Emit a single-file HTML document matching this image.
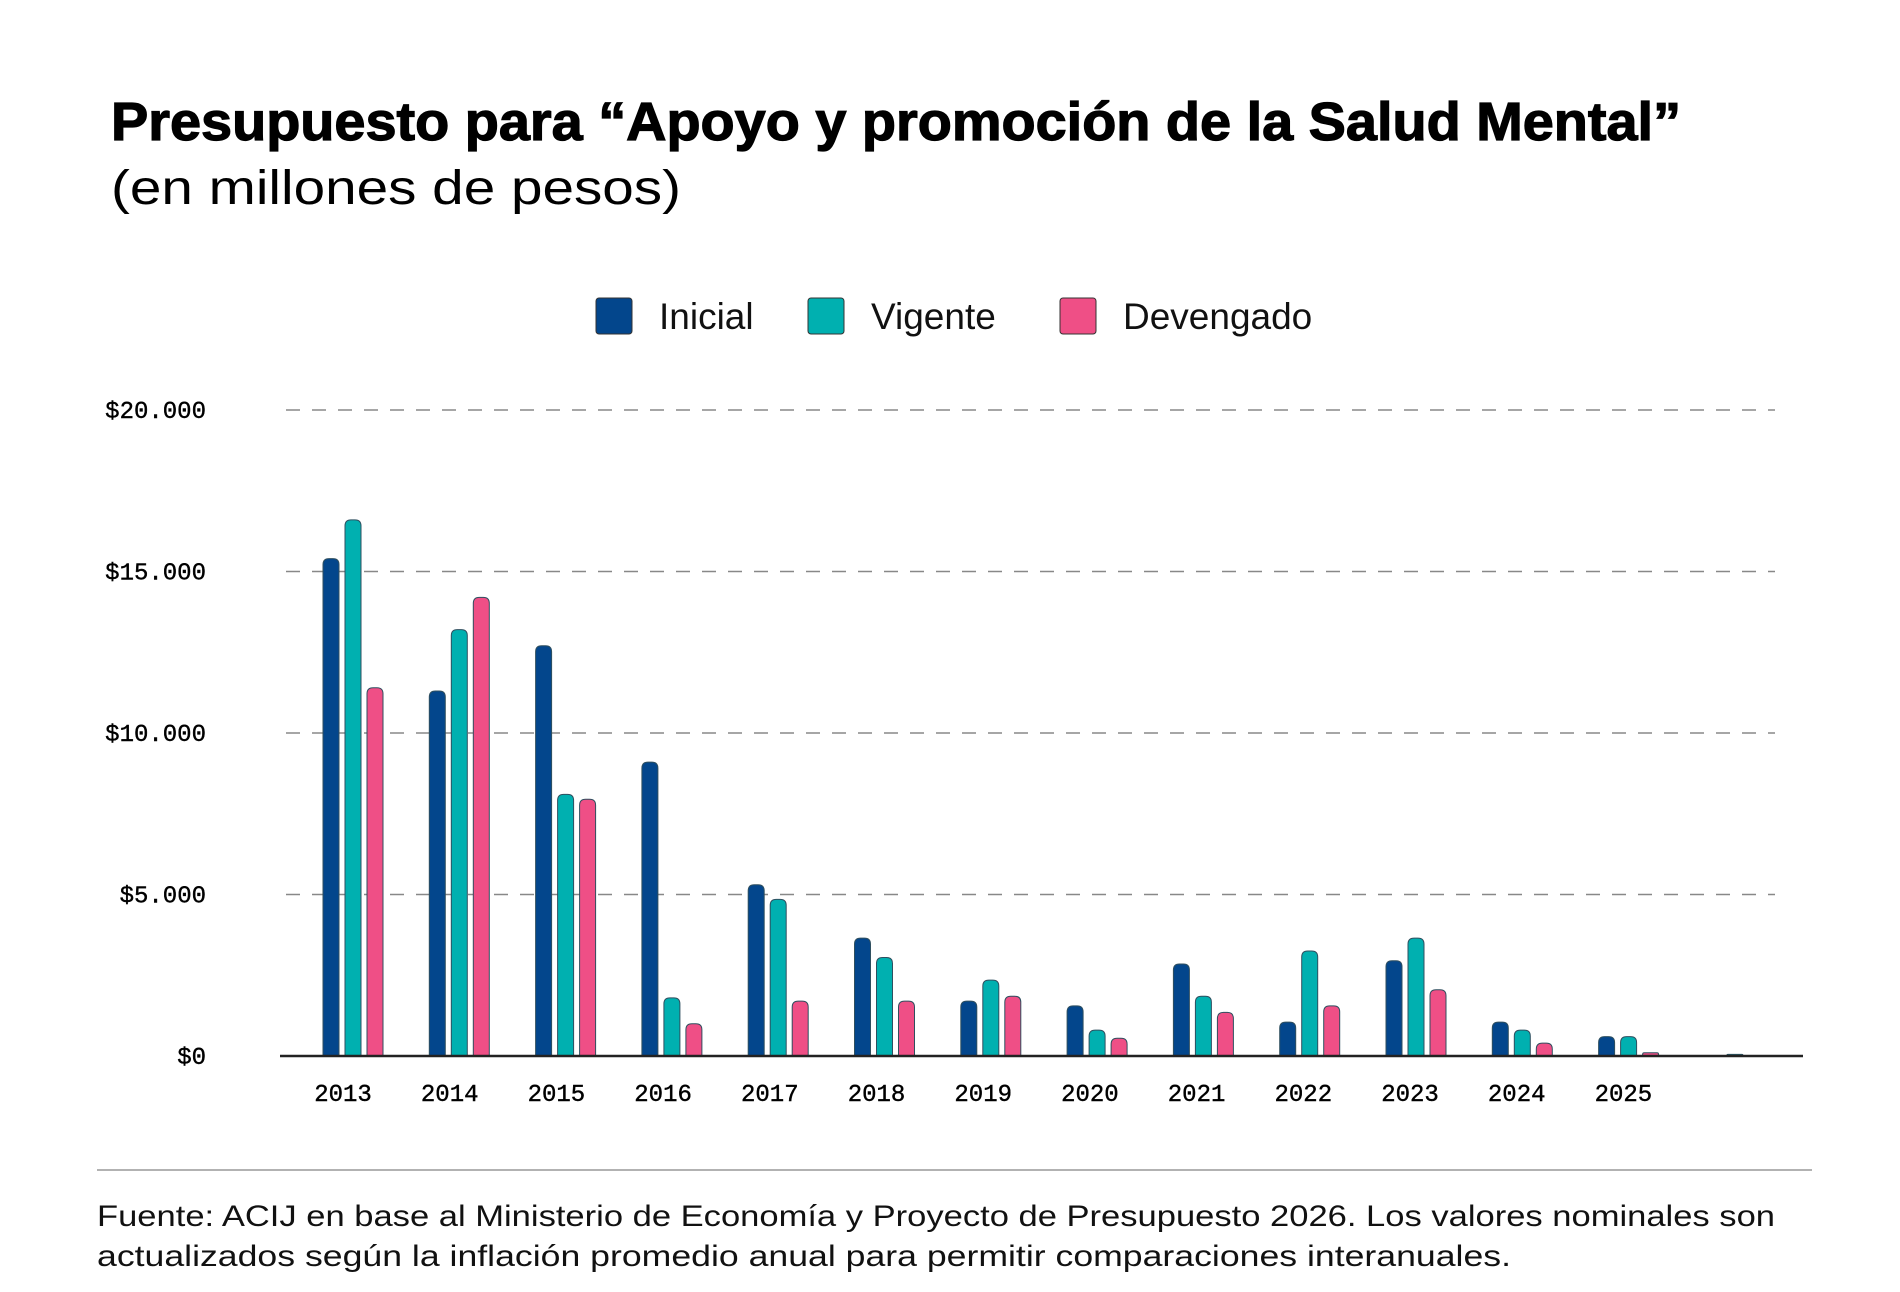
<!DOCTYPE html>
<html><head><meta charset="utf-8"><style>
html,body{margin:0;padding:0;background:#fff;}
svg{display:block;}
</style></head><body>
<svg id="chart" width="1900" height="1292" viewBox="0 0 1900 1292" xmlns="http://www.w3.org/2000/svg">
<rect width="1900" height="1292" fill="#fff"/>
<text x="111" y="140" font-family="Liberation Sans, sans-serif" font-weight="bold" font-size="54" textLength="1570" lengthAdjust="spacingAndGlyphs" fill="#000" stroke="#000" stroke-width="1.2">Presupuesto para “Apoyo y promoción de la Salud Mental”</text>
<text x="111" y="204" font-family="Liberation Sans, sans-serif" font-size="48" textLength="570" lengthAdjust="spacingAndGlyphs" fill="#000">(en millones de pesos)</text>
<g font-family="Liberation Sans, sans-serif" font-size="37" fill="#111">
<g><rect x="596" y="298" width="36" height="36" rx="3" fill="#03468c" stroke="#333" stroke-width="1"/><text x="659" y="329">Inicial</text></g>
<g><rect x="808" y="298" width="36" height="36" rx="3" fill="#00b0b0" stroke="#333" stroke-width="1"/><text x="871" y="329">Vigente</text></g>
<g><rect x="1060" y="298" width="36" height="36" rx="3" fill="#ef4f86" stroke="#333" stroke-width="1"/><text x="1123" y="329">Devengado</text></g>
</g>
<g id="grid"></g>
<g id="bars"></g>
<g id="xlabels"></g>
<line x1="280" y1="1056" x2="1803" y2="1056" stroke="#222" stroke-width="2.5"/>
<line x1="97" y1="1170" x2="1812" y2="1170" stroke="#999" stroke-width="1.5"/>
<g font-family="Liberation Sans, sans-serif" font-size="30" fill="#111">
<text x="97" y="1226" textLength="1678" lengthAdjust="spacingAndGlyphs">Fuente: ACIJ en base al Ministerio de Economía y Proyecto de Presupuesto 2026. Los valores nominales son</text>
<text x="97" y="1266" textLength="1414" lengthAdjust="spacingAndGlyphs">actualizados según la inflación promedio anual para permitir comparaciones interanuales.</text>
</g>
</svg>
<script>
const years = ["2013","2014","2015","2016","2017","2018","2019","2020","2021","2022","2023","2024","2025",""];
const inicial = [15400,11300,12700,9100,5300,3650,1700,1550,2850,1050,2950,1050,600,10];
const vigente = [16600,13200,8100,1800,4850,3050,2350,800,1850,3250,3650,800,600,50];
const devengado = [11400,14200,7950,1000,1700,1700,1850,550,1350,1550,2050,400,100,10];
const ticks = [0,5000,10000,15000,20000];
const tickLabels = ["$0","$5.000","$10.000","$15.000","$20.000"];

const NS = "http://www.w3.org/2000/svg";
const y0 = 1056, yTop = 410, vMax = 20000;
function yScale(v){ return y0 - (v / vMax) * (y0 - yTop); }
const x0 = 353, step = 106.3;
function xScale(i){ return x0 + i * step; }
function xLabel(i){ return 343 + i * 106.7; }

const grid = document.getElementById('grid');
ticks.forEach((t, i) => {
  const y = yScale(t);
  if (t > 0) {
    const l = document.createElementNS(NS, 'line');
    
    
    l.setAttribute('x1', 286); l.setAttribute('x2', 1775);
    l.setAttribute('y1', y); l.setAttribute('y2', y);
    l.setAttribute('stroke', '#888'); l.setAttribute('stroke-width', '1.6');
    l.setAttribute('stroke-dasharray', '14 12');
    grid.appendChild(l);
  }
  const tx = document.createElementNS(NS, 'text');
  
  
  tx.setAttribute('x', 206); tx.setAttribute('y', y + 8);
  tx.setAttribute('text-anchor', 'end');
  tx.setAttribute('font-family', 'Liberation Mono, monospace');
  tx.setAttribute('font-size', '24');
  tx.setAttribute('stroke', '#000');
  tx.setAttribute('stroke-width', '0.4');
  tx.textContent = tickLabels[i];
  grid.appendChild(tx);
});

const barsG = document.getElementById('bars');
const series = [[inicial, '#03468c', -22], [vigente, '#00b0b0', 0], [devengado, '#ef4f86', 22]];
const w = 16, r = 6;
years.forEach((yr, i) => {
  const cx = xScale(i);
  series.forEach(([arr, color, off]) => {
    const v = arr[i];
    const top = yScale(v), h = y0 - top;
    const x = cx + off - w / 2;
    const rr = Math.min(r, h / 2, w / 2);
    const p = document.createElementNS(NS, 'path');
    
    
    p.setAttribute('d', `M${x},${y0} L${x},${top + rr} Q${x},${top} ${x + rr},${top} L${x + w - rr},${top} Q${x + w},${top} ${x + w},${top + rr} L${x + w},${y0} Z`);
    p.setAttribute('fill', color);
    p.setAttribute('stroke', '#2f4f5f');
    p.setAttribute('stroke-width', '1');
    barsG.appendChild(p);
  });
  if (yr) {
    const t = document.createElementNS(NS, 'text');
    
    
    t.setAttribute('x', xLabel(i)); t.setAttribute('y', 1101);
    t.setAttribute('text-anchor', 'middle');
    t.setAttribute('font-family', 'Liberation Mono, monospace');
    t.setAttribute('font-size', '24');
    t.setAttribute('stroke', '#000');
    t.setAttribute('stroke-width', '0.4');
    t.textContent = yr;
    document.getElementById('xlabels').appendChild(t);
  }
});
</script>
</body></html>
